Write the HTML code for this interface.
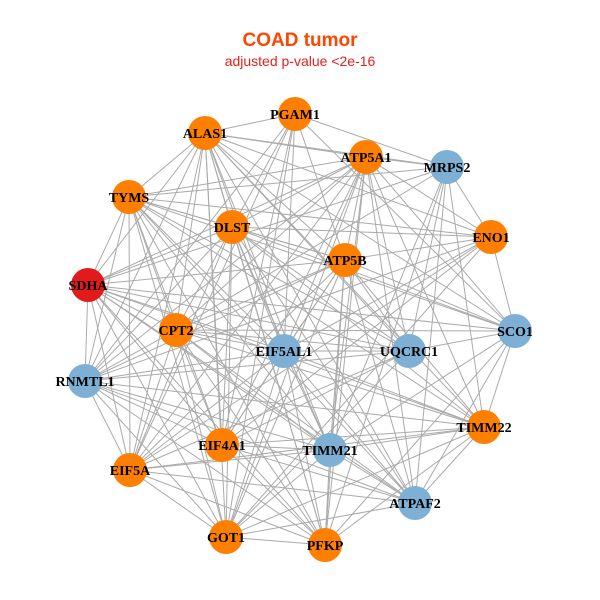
<!DOCTYPE html>
<html><head><meta charset="utf-8"><style>
body{margin:0;background:#fff;}
svg{display:block;}
</style></head><body>
<svg id="s" width="600" height="600" xmlns="http://www.w3.org/2000/svg">
<rect width="600" height="600" fill="#fff"/>
<text x="300" y="46" text-anchor="middle" font-family="Liberation Sans, sans-serif" font-weight="bold" font-size="19" fill="#FF4500">COAD tumor</text>
<text x="300" y="66" text-anchor="middle" font-family="Liberation Sans, sans-serif" font-size="14" fill="#E8201A">adjusted p-value &lt;2e-16</text>
<g id="edges" stroke="#AAAAAA" stroke-width="1"></g>
<g id="nodes"></g>
</svg>
<script>
var N=[
["PGAM1",295,114,"o"],["ALAS1",205,133,"o"],["ATP5A1",366,157,"o"],["MRPS2",447,167,"b"],
["TYMS",129,197,"o"],["DLST",232,227,"o"],["ENO1",491,237,"o"],["ATP5B",345,260,"o"],
["SDHA",88,285,"r"],["SCO1",515,331,"b"],["CPT2",176,330,"o"],["EIF5AL1",284,351,"b"],
["UQCRC1",409,351,"b"],["RNMTL1",85,381,"b"],["TIMM22",484,427,"o"],["EIF4A1",222,445,"o"],
["TIMM21",330,450,"b"],["EIF5A",130,470,"o"],["ATPAF2",415,503,"b"],["GOT1",226,537,"o"],["PFKP",325,545,"o"]];
var C={o:"#FF7F00",b:"#7EB0D5",r:"#E31A1C"};
var ns="http://www.w3.org/2000/svg",E=document.getElementById("edges"),G=document.getElementById("nodes");
for(var i=0;i<N.length;i++)for(var j=i+1;j<N.length;j++){
 if((i*7+j*3)%6==0)continue;
 var l=document.createElementNS(ns,"line");
 l.setAttribute("x1",N[i][1]);l.setAttribute("y1",N[i][2]);l.setAttribute("x2",N[j][1]);l.setAttribute("y2",N[j][2]);E.appendChild(l);}
N.forEach(function(n){
 var c=document.createElementNS(ns,"circle");c.setAttribute("cx",n[1]);c.setAttribute("cy",n[2]);c.setAttribute("r",17);c.setAttribute("fill",C[n[3]]);G.appendChild(c);
 var t=document.createElementNS(ns,"text");t.setAttribute("x",n[1]);t.setAttribute("y",n[2]+5);t.setAttribute("text-anchor","middle");
 t.setAttribute("font-family","Liberation Serif, serif");t.setAttribute("font-weight","bold");t.setAttribute("font-size","14");t.setAttribute("fill","#000");
 t.textContent=n[0];G.appendChild(t);});
</script>
</body></html>
